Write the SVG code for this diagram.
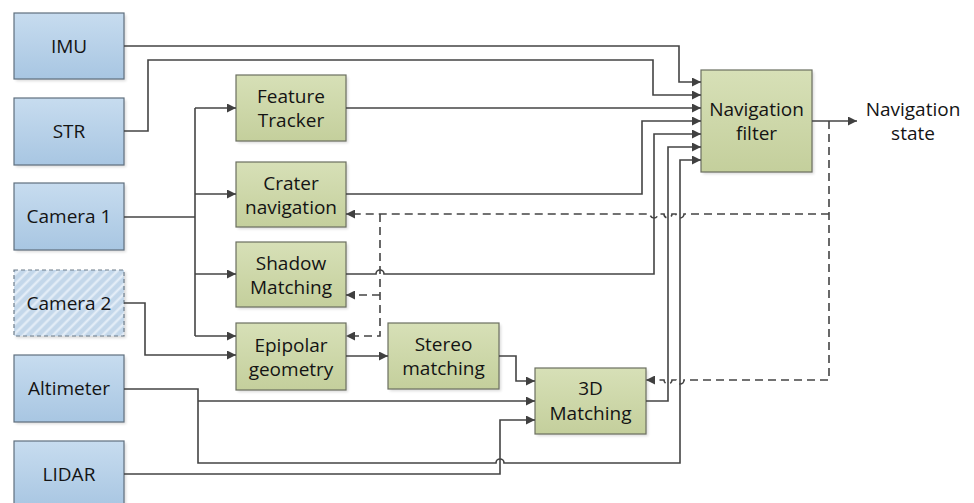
<svg xmlns="http://www.w3.org/2000/svg" width="974" height="503" viewBox="0 0 974 503">
  <defs>
    <linearGradient id="gBlue" x1="0" y1="0" x2="0" y2="1">
      <stop offset="0" stop-color="#c7dcef"/>
      <stop offset="1" stop-color="#a8c6e2"/>
    </linearGradient>
    <linearGradient id="gGreen" x1="0" y1="0" x2="0" y2="1">
      <stop offset="0" stop-color="#d7e0b7"/>
      <stop offset="1" stop-color="#c4cf9c"/>
    </linearGradient>
    <pattern id="hatch" width="7" height="7" patternUnits="userSpaceOnUse" patternTransform="rotate(45)">
      <rect width="7" height="7" fill="#c3d7ea"/>
      <line x1="1.5" y1="0" x2="1.5" y2="7" stroke="#e6eff8" stroke-width="2.2"/>
    </pattern>
    <filter id="sh" x="-10%" y="-10%" width="130%" height="130%">
      <feGaussianBlur stdDeviation="1.5"/>
    </filter>
    <marker id="arr" viewBox="0 0 10 10" refX="10" refY="5" markerWidth="10" markerHeight="9" markerUnits="userSpaceOnUse" orient="auto">
      <path d="M0,0 L10,5 L0,10 z" fill="#404040"/>
    </marker>
  </defs>
  <style>
    .shadow { fill: #000; opacity: 0.15; filter: url(#sh); }
    .blue { fill: url(#gBlue); stroke: #5f6f7e; stroke-width: 1.2; }
    .blue2 { fill: url(#hatch); stroke: #6d7c8a; stroke-width: 1.2; stroke-dasharray: 4 3; }
    .green { fill: url(#gGreen); stroke: #6b6f60; stroke-width: 1.2; }
    text { font-family: "Open Sans", "Liberation Sans", sans-serif; font-size: 19px; fill: #141414; text-anchor: middle; }
    .ln { fill: none; stroke: #444; stroke-width: 1.6; }
    .ar { marker-end: url(#arr); }
    .dash { stroke-dasharray: 8 5; }
  </style>

  <rect width="974" height="503" fill="#fff"/>

  <!-- sensors -->
  <g id="imu">
    <rect class="shadow" x="16" y="15" width="110" height="66"/>
    <rect class="blue" x="14" y="13" width="110" height="66"/>
    <text x="69" y="53">IMU</text>
  </g>
  <g id="str">
    <rect class="shadow" x="16" y="100" width="110" height="67"/>
    <rect class="blue" x="14" y="98" width="110" height="67"/>
    <text x="69" y="138">STR</text>
  </g>
  <g id="camera1">
    <rect class="shadow" x="16" y="185" width="110" height="67"/>
    <rect class="blue" x="14" y="183" width="110" height="67"/>
    <text x="69" y="223">Camera 1</text>
  </g>
  <g id="camera2">
    <rect class="shadow" x="16" y="272" width="110" height="66"/>
    <rect class="blue2" x="14" y="270" width="110" height="66"/>
    <text x="69" y="310">Camera 2</text>
  </g>
  <g id="altimeter">
    <rect class="shadow" x="16" y="357" width="110" height="67"/>
    <rect class="blue" x="14" y="355" width="110" height="67"/>
    <text x="69" y="395">Altimeter</text>
  </g>
  <g id="lidar">
    <rect class="shadow" x="16" y="443" width="110" height="67"/>
    <rect class="blue" x="14" y="441" width="110" height="67"/>
    <text x="69" y="481">LIDAR</text>
  </g>

  <!-- processing blocks -->
  <g id="feature-tracker">
    <rect class="shadow" x="238" y="77" width="110" height="66"/>
    <rect class="green" x="236" y="75" width="110" height="66"/>
    <text x="291" y="103">Feature</text>
    <text x="291" y="127">Tracker</text>
  </g>
  <g id="crater-navigation">
    <rect class="shadow" x="238" y="164" width="110" height="65"/>
    <rect class="green" x="236" y="162" width="110" height="65"/>
    <text x="291" y="190">Crater</text>
    <text x="291" y="214">navigation</text>
  </g>
  <g id="shadow-matching">
    <rect class="shadow" x="238" y="244" width="110" height="65"/>
    <rect class="green" x="236" y="242" width="110" height="65"/>
    <text x="291" y="270">Shadow</text>
    <text x="291" y="294">Matching</text>
  </g>
  <g id="epipolar-geometry">
    <rect class="shadow" x="238" y="325" width="110" height="67"/>
    <rect class="green" x="236" y="323" width="110" height="67"/>
    <text x="291" y="352">Epipolar</text>
    <text x="291" y="376">geometry</text>
  </g>
  <g id="stereo-matching">
    <rect class="shadow" x="390" y="325" width="111" height="66"/>
    <rect class="green" x="388" y="323" width="111" height="66"/>
    <text x="443.5" y="351">Stereo</text>
    <text x="443.5" y="375">matching</text>
  </g>
  <g id="matching-3d">
    <rect class="shadow" x="537" y="370" width="111" height="66"/>
    <rect class="green" x="535" y="368" width="111" height="66"/>
    <text x="590.5" y="395">3D</text>
    <text x="590.5" y="420">Matching</text>
  </g>
  <g id="navigation-filter">
    <rect class="shadow" x="703" y="72" width="111" height="102"/>
    <rect class="green" x="701" y="70" width="111" height="102"/>
    <text x="756.5" y="116">Navigation</text>
    <text x="756.5" y="140">filter</text>
  </g>
  <g id="navigation-state">
    <text x="913" y="116">Navigation</text>
    <text x="913" y="140">state</text>
  </g>

  <!-- connectors -->
  <g id="connectors">
    <!-- inputs to navigation filter -->
    <path class="ln ar" d="M124,46 H679 V82 H701"/>
    <path class="ln ar" d="M124,131 H148 V60 H653 V95 H701"/>
    <path class="ln ar" d="M346,108 H701"/>
    <path class="ln ar" d="M346,194 H642 V121 H701"/>
    <path class="ln ar" d="M346,274 H376 A4,4 0 0 1 384,274 H654 V134 H701"/>
    <path class="ln ar" d="M646,401 H668 V147 H701"/>
    <path class="ln ar" d="M124,389 H198 V463 H496 A4,4 0 0 1 504,463 H680 V160 H701"/>
    <!-- output -->
    <path class="ln ar" d="M812,121 H857"/>

    <!-- camera 1 distribution -->
    <path class="ln" d="M124,217 H195"/>
    <path class="ln" d="M195,108 V336"/>
    <path class="ln ar" d="M195,108 H236"/>
    <path class="ln ar" d="M195,194 H236"/>
    <path class="ln ar" d="M195,274 H236"/>
    <path class="ln ar" d="M195,336 H236"/>

    <!-- camera 2, stereo chain -->
    <path class="ln ar" d="M124,303 H145 V355 H236"/>
    <path class="ln ar" d="M346,356 H388"/>
    <path class="ln ar" d="M499,356 H516 V381 H535"/>
    <path class="ln ar" d="M198,401 H535"/>
    <path class="ln ar" d="M124,474 H500 V420 H535"/>

    <!-- feedback (dashed) -->
    <path class="ln dash ar" d="M829,121 V380 H684 A4,4 0 0 1 676,380 H672 A4,4 0 0 1 664,380 H646"/>
    <path class="ln dash ar" d="M829,214 H684 A4,4 0 0 1 676,214 H672 A4,4 0 0 1 664,214 H658 A4,4 0 0 1 650,214 H346"/>
    <path class="ln dash ar" d="M380,214 V336 H346"/>
    <path class="ln dash ar" d="M380,295 H346"/>
  </g>
</svg>
